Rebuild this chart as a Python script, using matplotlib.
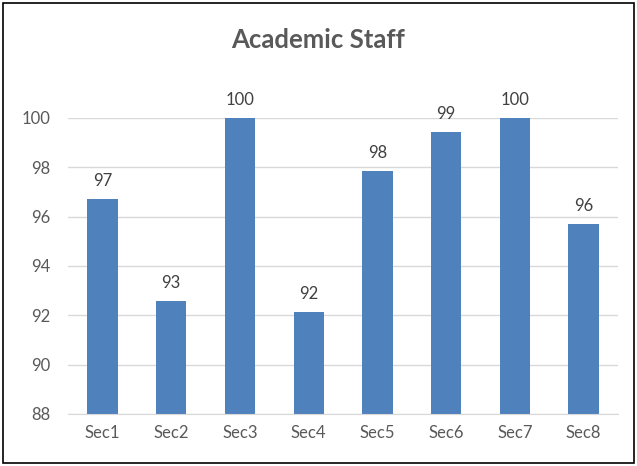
import matplotlib
matplotlib.use('Agg')
import matplotlib.pyplot as plt
from matplotlib.patches import Rectangle

sections = ['Sec1', 'Sec2', 'Sec3', 'Sec4', 'Sec5', 'Sec6', 'Sec7', 'Sec8']
values = [96.72, 92.58, 100.0, 92.13, 97.85, 99.45, 100.0, 95.72]
labels = ['97', '93', '100', '92', '98', '99', '100', '96']

plt.rcParams['font.family'] = ['Lato', 'DejaVu Sans']

fig = plt.figure(figsize=(6.37, 4.66), dpi=100)
ax = fig.add_axes([0.107, 0.1116, 0.863, 0.6352])

x = range(len(sections))
ax.bar(x, values, width=0.44, color='#4f81bd', zorder=2)
ax.set_ylim(88, 100)
ax.set_xlim(-0.5, len(sections) - 0.5)
ax.set_yticks(range(88, 101, 2))
ax.set_xticks(list(x))
ax.set_xticklabels(sections)

for i, v in enumerate(values):
    ax.text(i, v + 0.4, labels[i], ha='center', va='bottom', fontsize=12, color='#404040')

ax.grid(axis='y', color='#d9d9d9', linewidth=1, zorder=0)
for s in ['top', 'right', 'left']:
    ax.spines[s].set_visible(False)
ax.spines['bottom'].set_color('#d9d9d9')
ax.tick_params(axis='both', length=0, labelsize=12, colors='#595959')
ax.tick_params(axis='x', pad=8)
ax.tick_params(axis='y', pad=13)

fig.text(0.5, 0.915, 'Academic Staff', ha='center', va='center', fontsize=18.5,
         fontweight='bold', color='#595959')

fig.patches.append(Rectangle((0.004, 0.006), 0.992, 0.988, transform=fig.transFigure,
                             fill=False, edgecolor='black', linewidth=1.2))

fig.savefig('out.png', dpi=100)
